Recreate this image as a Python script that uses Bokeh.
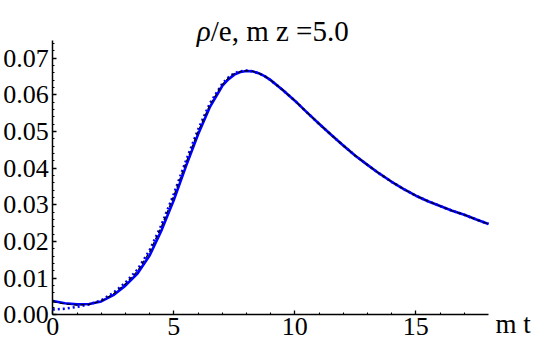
from bokeh.plotting import figure
from bokeh.models import Range1d, FixedTicker, PrintfTickFormatter, Label, ColumnDataSource
from bokeh.embed import file_html
from bokeh.resources import INLINE

# ---- data ----
t = [0, 0.5, 1, 1.5, 2, 2.5, 3, 3.5, 4, 4.5, 5, 5.5, 6, 6.5, 7, 7.25, 7.5, 7.75,
     8, 8.25, 8.5, 8.75, 9, 9.5, 10, 10.5, 11, 11.5, 12, 12.5, 13, 13.5, 14,
     14.5, 15, 15.5, 16, 16.5, 17, 17.5, 18]

rho_solid = [0.0038, 0.0032, 0.0029, 0.0030, 0.0037, 0.0054, 0.0080, 0.0113,
             0.0162, 0.0232, 0.0313, 0.0405, 0.0492, 0.0568, 0.0624, 0.0642,
             0.0655, 0.0662, 0.0665, 0.0664, 0.0659, 0.0651, 0.0640, 0.0613,
             0.0584, 0.0552, 0.0521, 0.0491, 0.0462, 0.0434, 0.0409, 0.0385,
             0.0363, 0.0343, 0.0325, 0.0310, 0.0297, 0.0284, 0.0273, 0.0260,
             0.0248]

rho_dotted = [0.0015, 0.0017, 0.0022, 0.0029, 0.0040, 0.0060, 0.0088, 0.0124,
              0.0176, 0.0247, 0.0330, 0.0420, 0.0505, 0.0578, 0.0630, 0.0647,
              0.0659, 0.0664, 0.0666, 0.0664, 0.0659, 0.0651, 0.0640, 0.0613,
              0.0584, 0.0552, 0.0521, 0.0491, 0.0462, 0.0434, 0.0409, 0.0385,
              0.0363, 0.0343, 0.0325, 0.0310, 0.0297, 0.0284, 0.0273, 0.0260,
              0.0248]

rho_dashed = [0.0036, 0.0030, 0.0027, 0.0029, 0.0038, 0.0057, 0.0085, 0.0120,
              0.0172, 0.0243, 0.0325, 0.0415, 0.0500, 0.0574, 0.0628, 0.0645,
              0.0658, 0.0663, 0.0666, 0.0664, 0.0659, 0.0651, 0.0640, 0.0613,
              0.0584, 0.0552, 0.0521, 0.0491, 0.0462, 0.0434, 0.0409, 0.0385,
              0.0363, 0.0343, 0.0325, 0.0310, 0.0297, 0.0284, 0.0273, 0.0260,
              0.0248]

x_ticks = [0, 5, 10, 15]
x_tick_labels = ["0", "5", "10", "15"]
x_minor = [1, 2, 3, 4, 6, 7, 8, 9, 11, 12, 13, 14, 16, 17]
y_ticks = [0.0, 0.01, 0.02, 0.03, 0.04, 0.05, 0.06, 0.07]
y_minor = [0.002, 0.004, 0.006, 0.008, 0.012, 0.014, 0.016, 0.018,
           0.022, 0.024, 0.026, 0.028, 0.032, 0.034, 0.036, 0.038,
           0.042, 0.044, 0.046, 0.048, 0.052, 0.054, 0.056, 0.058,
           0.062, 0.064, 0.066, 0.068, 0.072, 0.074]

title_rho = "ρ"
title_rest = "/e, m z =5.0"
x_label = "m t"

X_MAX = 18
Y_MAX = 0.0748
FONT = "Liberation Serif"

src = ColumnDataSource(dict(t=t, s=rho_solid, d=rho_dotted, k=rho_dashed))

# frame fills the whole canvas; axes are pinned at the origin (Mathematica style)
p = figure(width=534, height=343,
           x_range=Range1d(-2.1607, 19.901), y_range=Range1d(-0.007766, 0.085695),
           output_backend="svg", toolbar_location=None, min_border=0)
p.outline_line_color = None
p.background_fill_color = "white"
p.border_fill_color = "white"
p.xgrid.grid_line_color = None
p.ygrid.grid_line_color = None

p.line("t", "s", source=src, line_color="#0000ff", line_width=2.6)
p.line("t", "d", source=src, line_color="#0000ff", line_width=2.6, line_dash="2 3")
p.line("t", "k", source=src, line_color="black", line_width=1.2, line_dash="4 3")

for ax in (p.xaxis[0], p.yaxis[0]):
    ax.fixed_location = 0
    ax.axis_line_color = "black"
    ax.axis_line_width = 1.5
    ax.major_tick_line_color = "black"
    ax.minor_tick_line_color = "black"
    ax.major_tick_line_width = 1.3
    ax.minor_tick_line_width = 1.1
    ax.major_tick_in = 4
    ax.major_tick_out = 0
    ax.minor_tick_in = 2
    ax.minor_tick_out = 0
    ax.major_label_text_font = FONT
    ax.major_label_text_font_size = "26px"
    ax.major_label_text_color = "black"

p.xaxis.bounds = (0, X_MAX)
p.yaxis.bounds = (0, Y_MAX)
p.xaxis.ticker = FixedTicker(ticks=x_ticks, minor_ticks=x_minor)
p.xaxis.major_label_overrides = {v: s for v, s in zip(x_ticks, x_tick_labels)}
p.xaxis.major_label_standoff = 3
p.yaxis.ticker = FixedTicker(ticks=y_ticks, minor_ticks=y_minor)
p.yaxis.formatter = PrintfTickFormatter(format="%.2f")
p.yaxis.major_label_standoff = 4

p.add_layout(Label(x=6.526, y=0.07752, text=title_rho, text_font=FONT, text_font_size="29px",
                   text_font_style="italic", text_align="right", text_baseline="alphabetic",
                   text_color="black"))
p.add_layout(Label(x=6.526, y=0.07752, text=title_rest, text_font=FONT, text_font_size="29px",
                   text_align="left", text_baseline="alphabetic", text_color="black"))
p.add_layout(Label(x=18.29, y=-0.0024, text=x_label, text_font=FONT, text_font_size="27px",
                   text_align="left", text_baseline="alphabetic", text_color="black"))

open("out.html", "w").write(file_html(p, INLINE))
